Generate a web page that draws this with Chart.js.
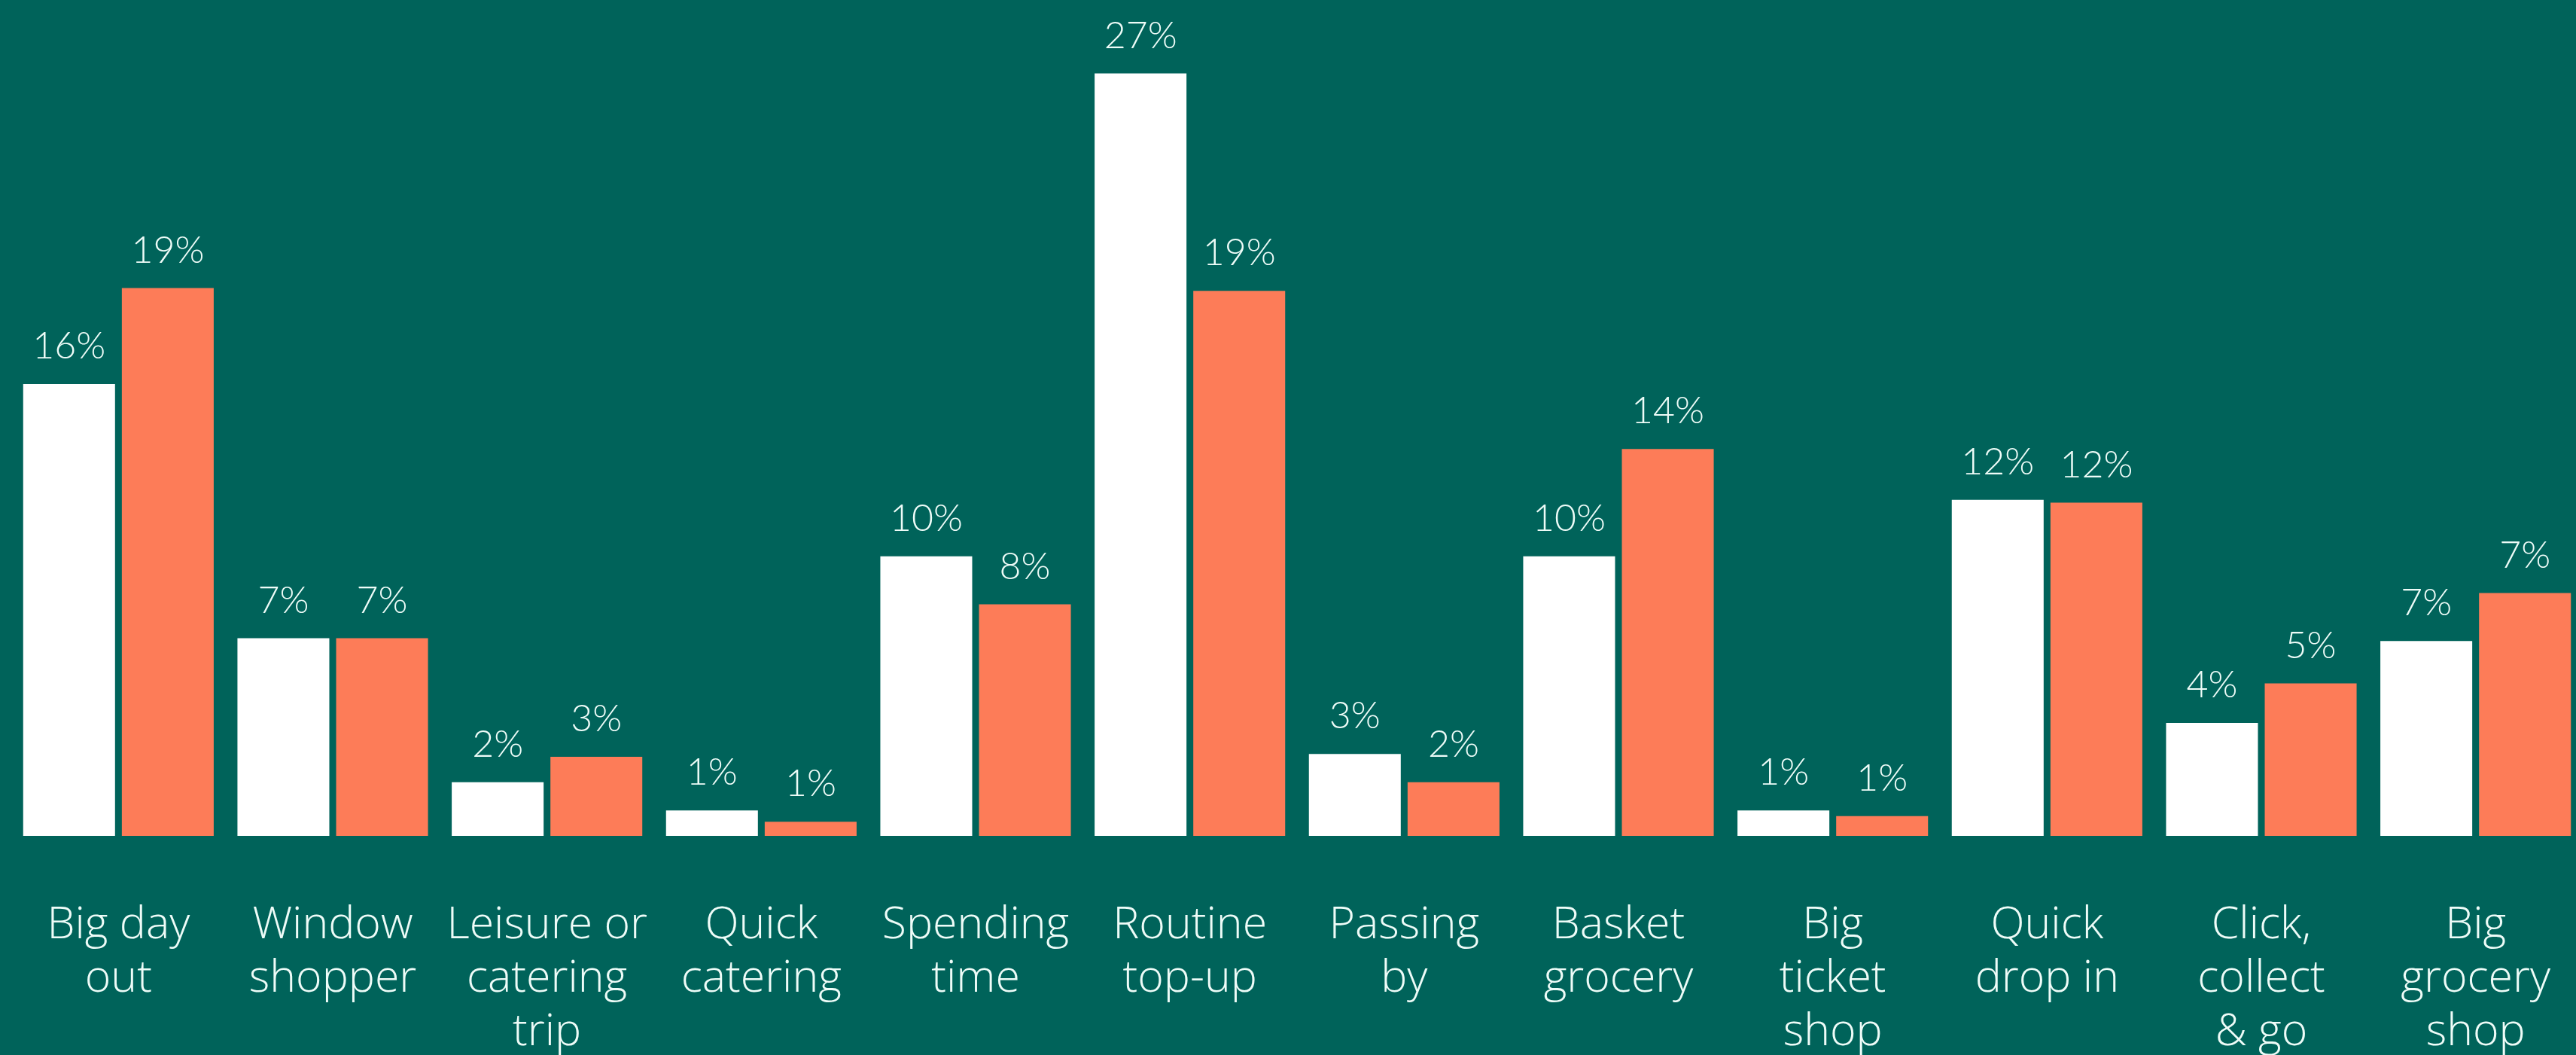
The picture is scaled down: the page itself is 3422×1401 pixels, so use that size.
<!DOCTYPE html>
<html>
<head>
<meta charset="utf-8">
<script src="https://cdn.jsdelivr.net/npm/chart.js@4"></script>
<style>
  html, body { margin: 0; padding: 0; background: #00635a; overflow: hidden; }
  #wrap { position: relative; width: 3440px; height: 1491px; }
</style>
</head>
<body>
<div id="wrap"><canvas id="graphCanvas"></canvas></div>
<script>
// Shopping mission categories (multi-line tick labels)
const categories = [
    ['Big day', 'out'],
    ['Window', 'shopper'],
    ['Leisure or', 'catering', 'trip'],
    ['Quick', 'catering'],
    ['Spending', 'time'],
    ['Routine', 'top-up'],
    ['Passing', 'by'],
    ['Basket', 'grocery'],
    ['Big', 'ticket', 'shop'],
    ['Quick', 'drop in'],
    ['Click,', 'collect', '& go'],
    ['Big', 'grocery', 'shop']
];

// Bar heights (%)
const whiteValues = [16.0, 7.0, 1.9, 0.9, 9.9, 27.0, 2.9, 9.9, 0.9, 11.9, 4.0, 6.9];
const orangeValues = [19.4, 7.0, 2.8, 0.5, 8.2, 19.3, 1.9, 13.7, 0.7, 11.8, 5.4, 8.6];

// Printed labels above the bars
const whiteLabels = ['16%', '7%', '2%', '1%', '10%', '27%', '3%', '10%', '1%', '12%', '4%', '7%'];
const orangeLabels = ['19%', '7%', '3%', '1%', '8%', '19%', '2%', '14%', '1%', '12%', '5%', '7%'];

const textColor = '#eefcf8';

// Draw the value text above each bar
const barLabels = {
    id: 'barLabels',
    afterDatasetsDraw(chart) {
        const c = chart.ctx;
        c.save();
        c.fillStyle = textColor;
        c.font = '300 50px Lato, sans-serif';
        c.textAlign = 'center';
        c.textBaseline = 'alphabetic';
        chart.data.datasets.forEach((ds, i) => {
            const meta = chart.getDatasetMeta(i);
            meta.data.forEach((bar, j) => {
                c.fillText(ds.printed[j], bar.x, bar.y - 34);
            });
        });
        c.restore();
    }
};

const ctx = document.getElementById('graphCanvas').getContext('2d');
const chart = new Chart(ctx, {
    type: 'bar',
    data: {
        labels: categories,
        datasets: [
            {
                label: 'White',
                data: whiteValues,
                printed: whiteLabels,
                backgroundColor: '#ffffff',
                borderWidth: 0
            },
            {
                label: 'Orange',
                data: orangeValues,
                printed: orangeLabels,
                backgroundColor: '#fd7c58',
                borderWidth: 0
            }
        ]
    },
    options: {
        responsive: true,
        maintainAspectRatio: false,
        animation: false,
        layout: { padding: { left: 15, right: 9, top: 0, bottom: 0 } },
        datasets: {
            bar: { categoryPercentage: 0.921, barPercentage: 0.931 }
        },
        plugins: {
            legend: { display: false },
            tooltip: { enabled: false }
        },
        scales: {
            x: {
                grid: { display: false, drawTicks: false },
                border: { display: false },
                // tick padding would otherwise push the plot in from the sides
                afterFit(scale) {
                    scale.paddingLeft = 0;
                    scale.paddingRight = 0;
                },
                ticks: {
                    color: textColor,
                    padding: 84,
                    autoSkip: false,
                    maxRotation: 0,
                    minRotation: 0,
                    font: { family: '"Open Sans", Lato, sans-serif', size: 59, weight: '300', lineHeight: '71px' }
                }
            },
            y: {
                display: false,
                min: 0,
                max: 29.6
            }
        }
    },
    plugins: [barLabels]
});
</script>
</body>
</html>
